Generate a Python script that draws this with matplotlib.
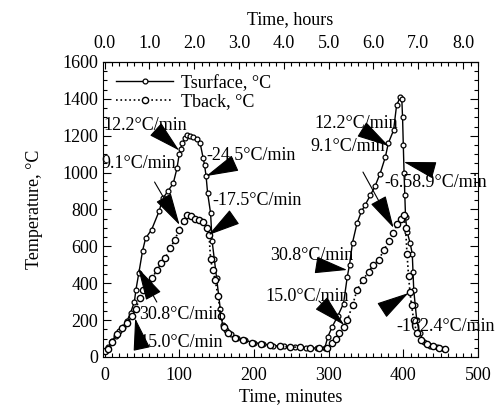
"""surface and back-face temperature during two heating cycles"""
import matplotlib
matplotlib.use('Agg')
import matplotlib.pyplot as plt
from matplotlib.ticker import MultipleLocator

plt.rcParams['font.family'] = ['Liberation Serif', 'DejaVu Serif']
plt.rcParams['font.size'] = 13

### data ###

# surface thermocouple, time in minutes, temperature in C
t_surface = [0, 5, 10, 15, 20, 25, 30, 35, 40, 42, 46, 51, 55, 63, 73, 78, 85, 92,
             97, 100, 102, 104, 108, 111, 115, 119, 124, 128, 132, 134, 136, 138,
             142, 144, 147, 150, 155, 158, 163, 170, 178, 188, 200, 212, 225, 240,
             255, 270, 285, 295,
             299, 305, 312, 320, 325, 328, 332, 338, 344, 349, 356, 362, 369, 376,
             380, 387, 391, 396, 398, 399, 400, 401, 402, 403, 405, 409, 412, 413,
             414, 416, 418, 422, 428, 436, 445, 455]
T_surface = [35, 55, 85, 115, 140, 165, 195, 240, 300, 363, 457, 577, 644, 690, 790,
             860, 900, 942, 1023, 1100, 1130, 1160, 1190, 1205, 1200, 1195, 1180,
             1160, 1080, 1040, 980, 890, 780, 630, 530, 430, 260, 175, 145, 125, 105,
             90, 78, 70, 62, 57, 52, 50, 48, 50,
             110, 165, 220, 290, 435, 500, 620, 725, 790, 825, 878, 925, 995, 1085,
             1160, 1230, 1365, 1410, 1400, 1300, 1150, 1000, 880, 760, 680, 620, 560,
             460, 363, 280, 200, 130, 80, 62, 52, 46]

# back face thermocouple
t_back = [0, 5, 10, 17, 24, 30, 37, 42, 47, 52, 58, 64, 70, 76, 81, 88, 94, 100,
          106, 111, 116, 121, 127, 132, 137, 140, 142, 145, 148, 152, 156, 160, 165,
          175, 185, 198, 210, 222, 235, 248, 262, 275, 287, 298,
          305, 310, 314, 320, 325, 332, 338, 346, 354, 360, 367, 374, 381, 386, 392,
          397, 401, 403, 405, 407, 409, 411, 414, 418, 424, 432, 440, 448, 456]
T_back = [30, 45, 80, 125, 155, 185, 220, 260, 320, 365, 400, 430, 470, 510, 535,
          590, 635, 690, 740, 770, 765, 750, 745, 730, 700, 660, 530, 470, 420, 330,
          220, 160, 130, 105, 90, 78, 70, 63, 58, 55, 52, 50, 48, 50,
          75, 100, 128, 165, 200, 280, 363, 420, 463, 500, 526, 580, 630, 670, 720,
          750, 770, 700, 560, 440, 350, 280, 200, 130, 90, 70, 58, 50, 46]

# heating / cooling rates and the point each one refers to
rate_labels = ['12.2°C/min', '-24.5°C/min', '9.1°C/min', '-17.5°C/min',
               '30.8°C/min', '15.0°C/min',
               '12.2°C/min', '9.1°C/min', '-6.58.9°C/min',
               '30.8°C/min', '15.0°C/min', '-162.4°C/min']
rate_t = [100, 136, 100.5, 139, 45, 41, 380.5, 387, 400.5, 325, 321, 407]
rate_T = [1120, 981, 716, 661, 482, 211, 1144, 700, 1058, 472, 173, 347]

# where each arrow starts and where its text sits
arrow_from = [(74, 1215), (169, 1041), (67, 949), (168, 743), (70, 298), (49, 60),
              (348, 1226), (346, 1003), (435, 1020), (291, 494), (287, 304), (378, 271)]
text_at = [(-1, 1258), (136, 1095), (-4, 1052), (144, 851), (47, 228), (47, 81),
           (281, 1264), (276, 1139), (375, 949), (222, 548), (216, 326), (391, 163)]

hour_ticks = [0, 1, 2, 3, 4, 5, 6, 7, 8]

### plot ###

fig = plt.figure(figsize=(4.96, 4.11), dpi=100)
ax = fig.add_axes([0.2077, 0.1314, 0.756, 0.7178])

ax.plot(t_surface, T_surface, '-', color='k', lw=1.0, marker='o', ms=3.5,
        mfc='white', mec='k', mew=0.9, label='Tsurface, °C')
ax.plot(t_back, T_back, ':', color='k', lw=1.2, marker='o', ms=4.5,
        mfc='white', mec='k', mew=1.0, label='Tback, °C')

for lab, tip, tail, pos in zip(rate_labels, zip(rate_t, rate_T), arrow_from, text_at):
    ax.text(pos[0], pos[1], lab, ha='left', va='center', zorder=4)
    ax.annotate('', xy=tip, xytext=tail, zorder=5,
                arrowprops=dict(arrowstyle='-|>,head_length=1.6,head_width=0.42',
                                color='k', lw=0.8, shrinkA=0, shrinkB=0))

ax.set_xlim(-2, 500)
ax.set_ylim(0, 1600)
ax.xaxis.set_major_locator(MultipleLocator(100))
ax.xaxis.set_minor_locator(MultipleLocator(10))
ax.yaxis.set_major_locator(MultipleLocator(200))
ax.yaxis.set_minor_locator(MultipleLocator(50))
ax.tick_params(which='both', direction='in', right=True, width=0.8)
ax.tick_params(which='major', length=6, top=False)
ax.tick_params(which='minor', length=3, top=False)
ax.tick_params(axis='x', which='major', pad=7)
ax.set_xlabel('Time, minutes', labelpad=3)
ax.set_ylabel('Temperature, °C', labelpad=14)

top = ax.secondary_xaxis('top', functions=(lambda m: m / 60.0, lambda h: h * 60.0))
top.set_xticks(hour_ticks)
top.set_xticklabels(['%.1f' % h for h in hour_ticks])
top.xaxis.set_minor_locator(MultipleLocator(1 / 6))
top.tick_params(which='both', direction='in', width=0.8, pad=7)
top.tick_params(which='major', length=5)
top.tick_params(which='minor', length=3)
top.set_xlabel('Time, hours', labelpad=8)

ax.legend(loc='upper left', frameon=False, handlelength=3.2, handletextpad=0.4,
          borderaxespad=0.3, labelspacing=0.1, markerscale=1.0)

fig.savefig('out.png', dpi=100)
